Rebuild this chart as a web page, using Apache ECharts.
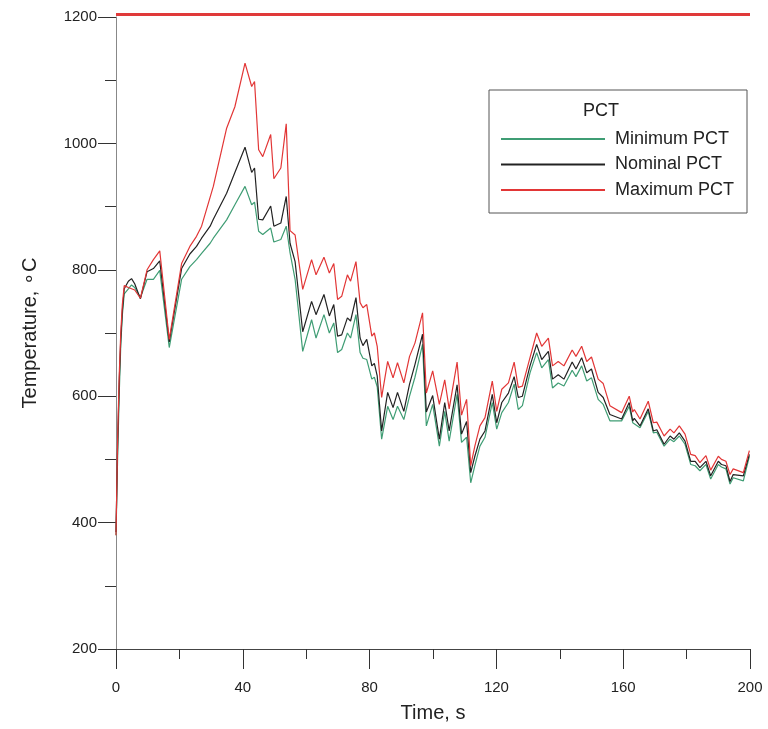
<!DOCTYPE html>
<html>
<head>
<meta charset="utf-8">
<script src="https://cdn.jsdelivr.net/npm/echarts@6/dist/echarts.min.js"></script>
<style>
  html, body { margin: 0; padding: 0; background: #fff; }
  #chart { width: 768px; height: 729px; }
</style>
</head>
<body>
<div id="chart"></div>
<script>
// time, s
const times = [
  0, 0.5, 1, 1.5, 2, 2.6, 3.9, 4.9, 5.9, 7.7,
  9.8, 11.8, 13.8, 16.8, 20.7, 23.3, 25.4, 27.0, 29.7, 30.7,
  34.9, 37.5, 40.7, 42.8, 43.7, 45.0, 46.3, 48.8, 49.8, 52.0,
  53.7, 54.9, 56.5, 58.9, 61.7, 63.1, 65.6, 67.3, 68.7, 69.9,
  71.2, 73.0, 74.0, 75.7, 77.0, 77.9, 79.1, 80.7, 81.5, 82.4,
  83.8, 85.7, 87.4, 88.8, 90.8, 92.6, 94.3, 96.7, 97.9, 99.9,
  102.0, 103.7, 105.1, 107.6, 109.0, 110.6, 111.9, 113.2, 114.8, 116.4,
  118.7, 120.1, 121.7, 123.8, 125.6, 126.9, 128.2, 130.6, 132.7, 134.3,
  136.4, 137.7, 139.5, 141.3, 143.9, 145.1, 146.9, 148.5, 150.0, 152.1,
  153.7, 155.8, 159.5, 161.9, 163.0, 163.5, 165.3, 167.9, 169.5, 170.6,
  172.9, 174.8, 176.0, 177.7, 179.5, 181.3, 182.7, 184.2, 186.1, 187.6,
  190.0, 191.0, 192.4, 193.7, 194.7, 197.9, 199.8
]

const minPct = [
  380, 500, 600, 680, 728, 762, 770, 776, 772, 756,
  785, 785, 799, 677, 785, 805, 816, 826, 842, 850,
  879, 903, 932, 903, 907, 861, 856, 866, 844, 848,
  869, 827, 785, 671, 721, 692, 729, 700, 716, 669,
  674, 700, 692, 729, 669, 660, 658, 627, 630, 615,
  532, 584, 563, 584, 563, 600, 630, 682, 553, 587,
  521, 576, 529, 603, 527, 535, 463, 490, 521, 535,
  590, 548, 574, 590, 619, 579, 585, 637, 669, 645,
  658, 613, 621, 616, 641, 631, 648, 624, 629, 595,
  587, 561, 561, 584, 558, 560, 550, 576, 542, 543,
  521, 532, 528, 537, 524, 492, 490, 482, 492, 469,
  492, 488, 485, 461, 471, 466, 505
]

const nomPct = [
  385, 520, 620, 690, 735, 770, 782, 786, 778, 754,
  797, 802, 814, 686, 802, 825, 837, 850, 869, 880,
  921, 954, 994, 954, 961, 880, 879, 901, 869, 874,
  916, 842, 813, 702, 750, 729, 761, 727, 745, 695,
  697, 724, 719, 756, 692, 680, 690, 648, 652, 632,
  545, 606, 582, 606, 576, 619, 650, 698, 575, 601,
  532, 590, 545, 618, 540, 560, 479, 505, 532, 545,
  603, 558, 590, 605, 631, 598, 600, 648, 682, 658,
  671, 627, 634, 627, 654, 643, 661, 637, 643, 606,
  598, 571, 564, 590, 561, 565, 553, 580, 545, 547,
  524, 537, 532, 542, 529, 497, 497, 487, 497, 474,
  497, 492, 490, 465, 476, 474, 508
]

const maxPct = [
  380, 530, 630, 700, 745, 775, 772, 770, 768, 755,
  800, 816, 830, 690, 810, 837, 853, 869, 915, 932,
  1024, 1058, 1127, 1090, 1098, 990, 979, 1014, 944, 961,
  1031, 862, 855, 769, 816, 792, 820, 795, 810, 753,
  758, 792, 782, 813, 748, 740, 745, 695, 700, 679,
  598, 655, 629, 653, 621, 663, 684, 732, 605, 640,
  587, 626, 580, 654, 570, 595, 490, 521, 553, 566,
  624, 576, 611, 621, 654, 614, 616, 661, 700, 679,
  692, 648, 655, 648, 673, 663, 679, 655, 662, 627,
  620, 585, 574, 600, 575, 579, 564, 592, 558, 559,
  537, 548, 542, 553, 540, 508, 506, 495, 506, 483,
  505, 500, 497, 476, 485, 479, 514
]

const limitTemp = 1204 // PCT limit, °C
const timeRange = [0, 200]

const font = '"Liberation Sans", Arial, sans-serif'

function pairs(vals) {
  return times.map((t, i) => [t, vals[i]])
}

const chart = echarts.init(document.getElementById('chart'))

chart.setOption({
  animation: false,
  backgroundColor: '#fff',
  grid: { left: 116, right: 18, top: 17, bottom: 80 },
  legend: {
    orient: 'vertical',
    left: 489,
    top: 90,
    data: ['Minimum PCT', 'Nominal PCT', 'Maximum PCT'],
    padding: [40, 13, 14, 11],
    itemWidth: 104,
    itemHeight: 14,
    itemGap: 7.5,
    itemStyle: { opacity: 0 },
    borderColor: '#555',
    borderWidth: 1,
    textStyle: { fontSize: 18, fontFamily: font, color: '#222', padding: [0, 0, 0, 5] }
  },
  graphic: [{
    type: 'text',
    left: 583,
    top: 102,
    style: { text: 'PCT', font: '18px ' + font, fill: '#222' }
  }],
  xAxis: {
    type: 'value',
    min: 0,
    max: 200,
    interval: 40,
    name: 'Time, s',
    nameLocation: 'middle',
    nameGap: 54,
    nameTextStyle: { fontSize: 20, fontFamily: font, color: '#222' },
    axisLine: { lineStyle: { color: '#444' } },
    axisTick: { length: 20, lineStyle: { color: '#333' } },
    minorTick: { show: true, splitNumber: 2, length: 10, lineStyle: { color: '#333' } },
    splitLine: { show: false },
    axisLabel: { margin: 31, fontSize: 15, fontFamily: font, color: '#222' }
  },
  yAxis: {
    type: 'value',
    min: 200,
    max: 1200,
    interval: 200,
    name: 'Temperature, \u2218C',
    nameLocation: 'middle',
    nameGap: 76,
    nameTextStyle: { fontSize: 20, fontFamily: font, color: '#222' },
    axisLine: { show: true, lineStyle: { color: '#888' } },
    axisTick: { show: true, length: 18, lineStyle: { color: '#333' } },
    minorTick: { show: true, splitNumber: 2, length: 11, lineStyle: { color: '#333' } },
    splitLine: { show: false },
    axisLabel: {
      margin: 19, fontSize: 15, fontFamily: font, color: '#222',
      formatter: v => String(v)
    }
  },
  series: [
    {
      name: 'Limit',
      type: 'line',
      symbol: 'none',
      clip: false,
      data: timeRange.map(t => [t, limitTemp]),
      lineStyle: { color: '#e03a3a', width: 3 }
    },
    {
      name: 'Minimum PCT',
      type: 'line',
      symbol: 'none',
      data: pairs(minPct),
      color: '#3f9d74',
      lineStyle: { width: 1.2 }
    },
    {
      name: 'Nominal PCT',
      type: 'line',
      symbol: 'none',
      data: pairs(nomPct),
      color: '#222',
      lineStyle: { width: 1.2 }
    },
    {
      name: 'Maximum PCT',
      type: 'line',
      symbol: 'none',
      data: pairs(maxPct),
      color: '#e23636',
      lineStyle: { width: 1.2 }
    }
  ]
})
</script>
</body>
</html>
